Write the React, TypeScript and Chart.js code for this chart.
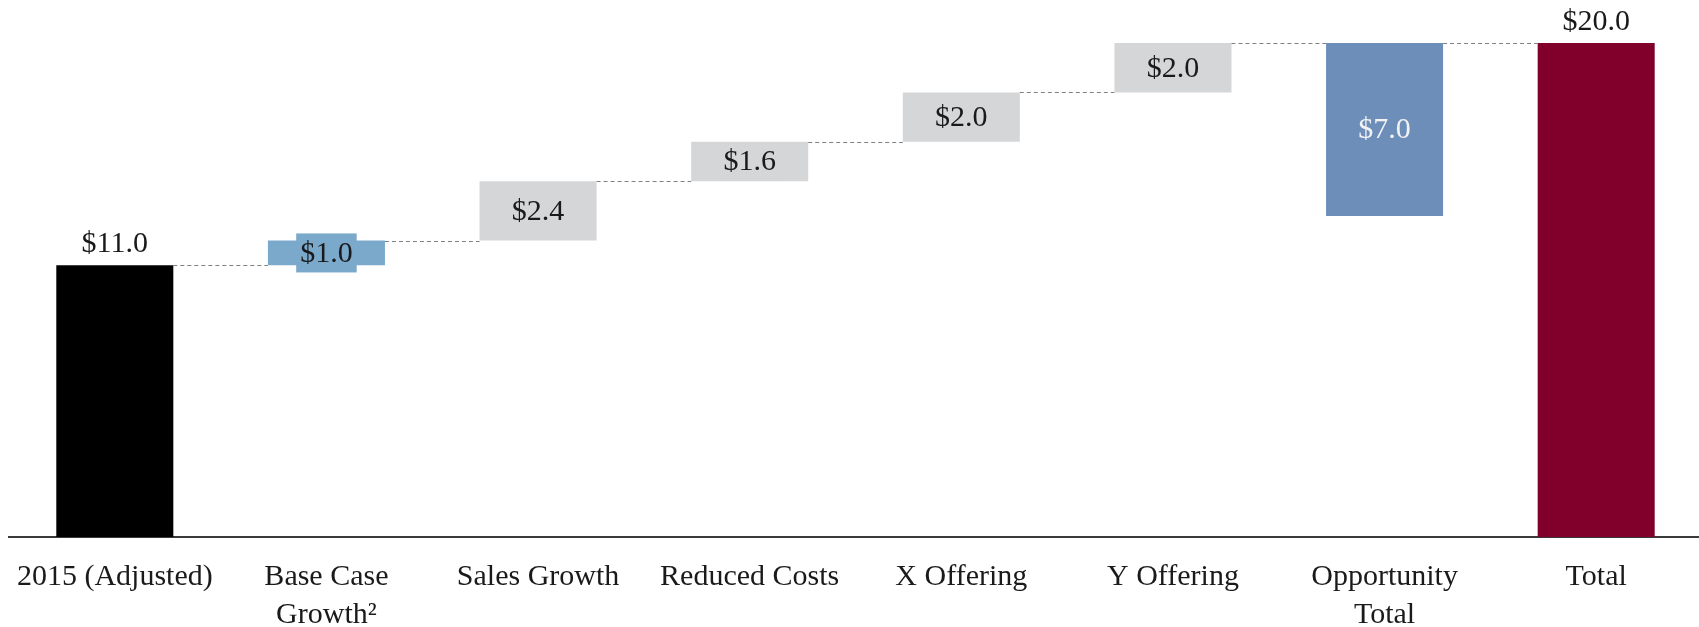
import React, { useEffect, useRef } from "react";
import { Chart, registerables } from "chart.js";

Chart.register(...registerables);

const categories: (string | string[])[] = [
  "2015 (Adjusted)",
  ["Base Case", "Growth\u00B2"],
  "Sales Growth",
  "Reduced Costs",
  "X Offering",
  "Y Offering",
  ["Opportunity", "Total"],
  "Total",
];
const barValues = [11.0, 1.0, 2.4, 1.6, 2.0, 2.0, 7.0, 20.0];
const barBases = [0, 11.0, 12.0, 14.4, 16.0, 18.0, 13.0, 0];
const valueLabels = ["$11.0", "$1.0", "$2.4", "$1.6", "$2.0", "$2.0", "$7.0", "$20.0"];
const labelInside = [false, true, true, true, true, true, true, false];
const barColors = ["#000000", "#7BA9CB", "#D5D6D8", "#D5D6D8", "#D5D6D8", "#D5D6D8", "#6E8EBA", "#80002B"];
const labelColors = ["#1a1a1a", "#1a1a1a", "#1a1a1a", "#1a1a1a", "#1a1a1a", "#1a1a1a", "#F2F2F2", "#1a1a1a"];

const FONT = "'Liberation Serif', 'DejaVu Serif', 'Times New Roman', serif";

const waterfallPlugin = {
  id: "waterfallExtras",
  afterDatasetsDraw(chart: any) {
    const ctx = chart.ctx;
    const meta = chart.getDatasetMeta(0);
    const yScale = chart.scales.y;
    // connectors
    ctx.save();
    ctx.strokeStyle = "#808080";
    ctx.lineWidth = 1;
    ctx.setLineDash([4, 3]);
    for (let i = 0; i < meta.data.length - 1; i++) {
      const a = meta.data[i];
      const b = meta.data[i + 1];
      const top = Math.max(barBases[i], barBases[i] + barValues[i]);
      const y = Math.round(yScale.getPixelForValue(top)) + 0.5;
      ctx.beginPath();
      ctx.moveTo(a.x + a.width / 2, y);
      ctx.lineTo(b.x - b.width / 2, y);
      ctx.stroke();
    }
    ctx.restore();
    // labels
    ctx.save();
    ctx.font = `30px ${FONT}`;
    ctx.textAlign = "center";
    ctx.textBaseline = "middle";
    meta.data.forEach((el: any, i: number) => {
      const topPx = yScale.getPixelForValue(barBases[i] + barValues[i]);
      const botPx = yScale.getPixelForValue(barBases[i]);
      if (labelInside[i]) {
        const cy = (topPx + botPx) / 2;
        const w = ctx.measureText(valueLabels[i]).width + 8;
        const h = 39;
        ctx.fillStyle = barColors[i];
        ctx.fillRect(el.x - w / 2, cy - h / 2, w, h);
        ctx.fillStyle = labelColors[i];
        ctx.fillText(valueLabels[i], el.x, cy + 1);
      } else {
        ctx.fillStyle = labelColors[i];
        ctx.fillText(valueLabels[i], el.x, topPx - 21);
      }
    });
    ctx.restore();
  },
};

export default function App() {
  const canvasRef = useRef<HTMLCanvasElement | null>(null);

  useEffect(() => {
    if (!canvasRef.current) return;
    const chart = new Chart(canvasRef.current, {
      type: "bar",
      data: {
        labels: categories,
        datasets: [
          {
            data: barValues.map((v, i) => [barBases[i], barBases[i] + v]) as any,
            backgroundColor: barColors,
            borderWidth: 0,
            barPercentage: 0.553,
            categoryPercentage: 1,
          },
        ],
      },
      options: {
        animation: false,
        responsive: false,
        maintainAspectRatio: false,
        layout: { padding: { left: 9, right: 4, top: 0, bottom: 0 } },
        plugins: { legend: { display: false }, tooltip: { enabled: false } },
        scales: {
          x: {
            grid: { display: false, drawTicks: false },
            border: { display: true, color: "#3a3a3a", width: 2 },
            ticks: {
              color: "#1a1a1a",
              font: { family: FONT, size: 30, lineHeight: 1.27 },
              padding: 21,
              maxRotation: 0,
              autoSkip: false,
            },
            afterFit: (scale: any) => {
              scale.height = 90;
              scale.paddingLeft = 0;
              scale.paddingRight = 0;
            },
          },
          y: {
            display: false,
            min: 0,
            max: 21.74,
          },
        },
      },
      plugins: [waterfallPlugin],
    });
    return () => chart.destroy();
  }, []);

  return (
    <div style={{ position: "absolute", left: 0, top: 0, width: 1699, height: 627, overflow: "hidden", background: "#fff" }}>
      <canvas ref={canvasRef} width={1706} height={627} style={{ display: "block", width: 1706, height: 627 }} />
    </div>
  );
}
